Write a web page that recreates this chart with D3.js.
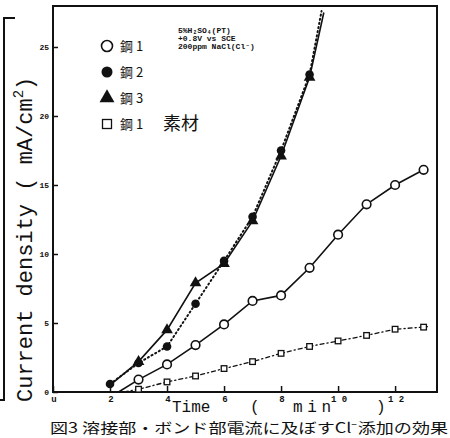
<!DOCTYPE html>
<html>
<head>
<meta charset="utf-8">
<script src="https://cdn.jsdelivr.net/npm/d3@7"></script>
<style>
  body { margin: 0; background: #fff; }
  svg { display: block; }
</style>
</head>
<body>
<div id="chart"></div>
<script>
// data (time in min, current density in mA/cm2)
const steel1Time = [2.3, 3, 4, 5, 6, 7, 8, 9, 10, 11, 12, 13];
const steel1Vals = [0, 0.9, 2.0, 3.4, 4.9, 6.6, 7.0, 9.0, 11.4, 13.6, 15.0, 16.1];

const steel2Time = [2, 3, 4, 5, 6, 7, 8, 9, 9.42];
const steel2Vals = [0.58, 2.1, 3.3, 6.4, 9.5, 12.7, 17.5, 23.0, 27.6];

const steel3Time = [2, 3, 4, 5, 6, 7, 8, 9, 9.5];
const steel3Vals = [0.5, 2.2, 4.5, 7.9, 9.3, 12.4, 17.1, 22.8, 27.5];

const baseTime = [2.5, 3, 4, 5, 6, 7, 8, 9, 10, 11, 12, 13, 13.2];
const baseVals = [0, 0.2, 0.73, 1.16, 1.7, 2.2, 2.8, 3.3, 3.7, 4.1, 4.55, 4.7, 4.75];

// which points carry a marker (first/last are just line ends)
const steel1Marked = [false, true, true, true, true, true, true, true, true, true, true, true];
const steel2Marked = [true, true, true, true, true, true, true, true, false];
const steel3Marked = [false, true, true, true, true, true, true, true, false];
const baseMarked = [false, true, true, true, true, true, true, true, true, true, true, true, false];

const xTicks = [0, 2, 4, 6, 8, 10, 12];
const xTickLabels = ["u", "2", "4", "6", "8", "1 0", "1 2"];
const yTicks = [0, 5, 10, 15, 20, 25];
const yTickLabels = ["0", "5", "10", "15", "20", "25"];

const legendLabels = ["鋼 1", "鋼 2", "鋼 3", "鋼 1"];
const conditions = ["5%H\u2082SO\u2084(PT)", "+0.8V vs SCE", "200ppm NaCl(Cl\u207B)"];

const width = 450, height = 438;
const plot = {left: 53, right: 437, top: 6, bottom: 392};

const svg = d3.select("#chart").append("svg")
    .attr("width", width)
    .attr("height", height)
    .style("font-family", "'Liberation Mono', 'DejaVu Sans Mono', monospace");

const x = d3.scaleLinear().domain([0, 13.47]).range([plot.left, plot.right]);
const y = d3.scaleLinear().domain([0, 27.97]).range([plot.bottom, plot.top]);

const ink = "#111";

// stray bracket line at the left edge of the scan
svg.append("path")
    .attr("d", "M15,18 H4 V400 H0")
    .attr("fill", "none")
    .attr("stroke", ink)
    .attr("stroke-width", 2);

// frame
svg.append("rect")
    .attr("x", plot.left)
    .attr("y", plot.top)
    .attr("width", plot.right - plot.left)
    .attr("height", plot.bottom - plot.top)
    .attr("fill", "none")
    .attr("stroke", ink)
    .attr("stroke-width", 2);

// axes with short inward ticks
const xAxis = svg.append("g")
    .attr("transform", `translate(0,${plot.bottom})`)
    .call(d3.axisTop(x).tickValues(xTicks).tickSize(6).tickFormat(""));
xAxis.select(".domain").remove();
xAxis.selectAll("line").attr("stroke", ink).attr("stroke-width", 1.5);

svg.append("g").selectAll("text")
    .data(xTicks)
    .join("text")
    .attr("x", d => x(d) + 1)
    .attr("y", plot.bottom + 10)
    .attr("text-anchor", "middle")
    .attr("font-size", 9)
    .attr("font-weight", "bold")
    .attr("fill", ink)
    .text((d, i) => xTickLabels[i]);

const yAxis = svg.append("g")
    .attr("transform", `translate(${plot.left},0)`)
    .call(d3.axisRight(y).tickValues(yTicks).tickSize(5).tickFormat(""));
yAxis.select(".domain").remove();
yAxis.selectAll("line").attr("stroke", ink).attr("stroke-width", 1.5);

svg.append("g").selectAll("text")
    .data(yTicks)
    .join("text")
    .attr("x", plot.left - 4)
    .attr("y", d => y(d) + 3)
    .attr("text-anchor", "end")
    .attr("font-size", 8)
    .attr("font-weight", "bold")
    .attr("fill", ink)
    .text((d, i) => yTickLabels[i]);

// axis titles
const yTitle = svg.append("text")
    .attr("transform", "translate(32,402) rotate(-90)")
    .attr("font-size", 22)
    .attr("fill", ink);
yTitle.append("tspan").text("Current density ( mA/cm");
yTitle.append("tspan").attr("dy", -9).attr("font-size", 14).text("2");
yTitle.append("tspan").attr("dy", 9).text(")");

const xTitle = svg.append("g").attr("font-size", 16).attr("fill", ink);
xTitle.append("text").attr("x", 172).attr("y", 412).text("Time");
xTitle.append("text").attr("x", 250).attr("y", 412).text("(");
xTitle.append("text").attr("x", 293).attr("y", 412).attr("textLength", 38).text("min");
xTitle.append("text").attr("x", 376).attr("y", 412).text(")");

svg.append("text")
    .attr("x", 50)
    .attr("y", 433)
    .attr("font-size", 14)
    .attr("textLength", 398)
    .attr("lengthAdjust", "spacingAndGlyphs")
    .attr("font-family", "'Noto Sans CJK JP', sans-serif")
    .attr("fill", ink)
    .text("図3 溶接部・ボンド部電流に及ぼすCl\u207B添加の効果");

// series
const series = [
    {time: steel1Time, vals: steel1Vals, marked: steel1Marked, dash: null, width: 1.6, marker: "openCircle"},
    {time: steel3Time, vals: steel3Vals, marked: steel3Marked, dash: null, width: 1.6, marker: "triangle"},
    {time: steel2Time, vals: steel2Vals, marked: steel2Marked, dash: "1.2,3", width: 2, marker: "filledCircle"},
    {time: baseTime, vals: baseVals, marked: baseMarked, dash: "4,3,1.2,3", width: 1.3, marker: "square"}
];

const line = d3.line().x(d => x(d[0])).y(d => y(d[1]));

series.forEach(s => {
    const pts = s.time.map((t, i) => [t, s.vals[i], s.marked[i]]);
    svg.append("path")
        .datum(pts)
        .attr("fill", "none")
        .attr("stroke", ink)
        .attr("stroke-width", s.width)
        .attr("stroke-linecap", s.dash ? "round" : "butt")
        .attr("stroke-dasharray", s.dash)
        .attr("d", line);
});

function drawMarker(g, kind, px, py, size) {
    if (kind === "openCircle") {
        g.append("circle").attr("cx", px).attr("cy", py).attr("r", size)
            .attr("fill", "#fff").attr("stroke", ink).attr("stroke-width", 1.6);
    } else if (kind === "filledCircle") {
        g.append("circle").attr("cx", px).attr("cy", py).attr("r", size)
            .attr("fill", ink);
    } else if (kind === "triangle") {
        g.append("path")
            .attr("d", d3.symbol(d3.symbolTriangle, size * size * 3.2)())
            .attr("transform", `translate(${px},${py})`)
            .attr("fill", ink);
    } else if (kind === "square") {
        g.append("rect").attr("x", px - size).attr("y", py - size)
            .attr("width", size * 2).attr("height", size * 2)
            .attr("fill", "#fff").attr("stroke", ink).attr("stroke-width", 1.3);
    }
}

const markers = svg.append("g");
series.forEach(s => {
    s.time.forEach((t, i) => {
        if (!s.marked[i]) return;
        const size = s.marker === "square" ? 2.8 : 4.3;
        drawMarker(markers, s.marker, x(t), y(s.vals[i]), size);
    });
});

// legend
const legendKinds = ["openCircle", "filledCircle", "triangle", "square"];
const legendY = [46, 72, 98, 124];
const legend = svg.append("g");
legendKinds.forEach((k, i) => {
    drawMarker(legend, k, 107, legendY[i], k === "square" ? 4.5 : 5.5);
    legend.append("text")
        .attr("x", 120)
        .attr("y", legendY[i] + 5)
        .attr("font-size", 13)
        .attr("font-family", "'Noto Sans CJK JP', sans-serif")
        .attr("fill", ink)
        .text(legendLabels[i]);
});
legend.append("text")
    .attr("x", 163)
    .attr("y", 130)
    .attr("font-size", 18)
    .attr("font-family", "'Noto Sans CJK JP', sans-serif")
    .attr("fill", ink)
    .text("素材");

// test conditions
svg.append("g").selectAll("text")
    .data(conditions)
    .join("text")
    .attr("x", 178)
    .attr("y", (d, i) => 33 + i * 8)
    .attr("font-size", 8)
    .attr("font-weight", "bold")
    .attr("fill", ink)
    .text(d => d);
</script>
</body>
</html>
